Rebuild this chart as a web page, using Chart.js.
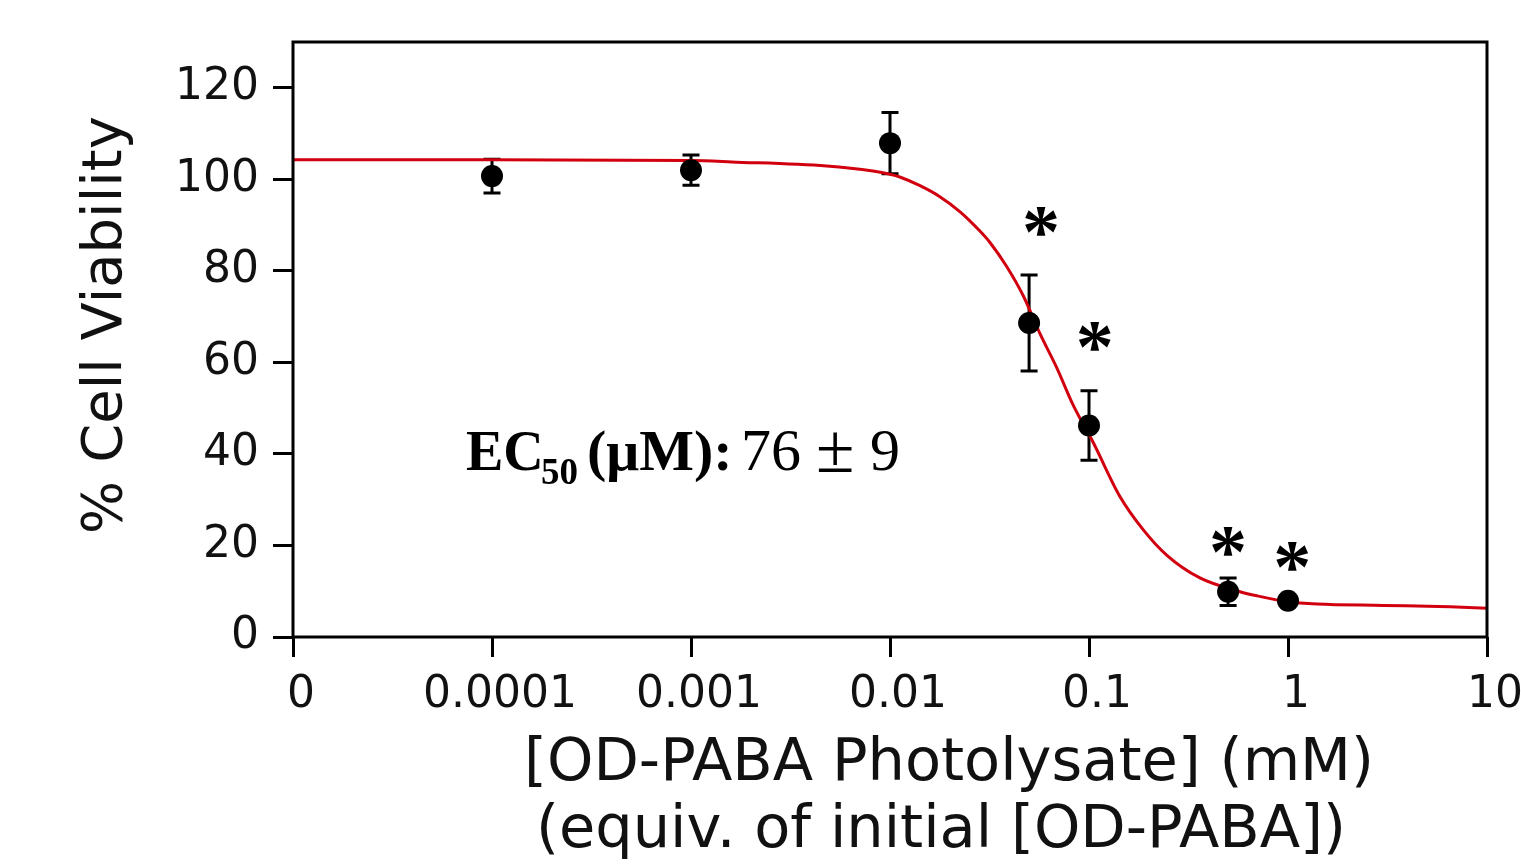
<!DOCTYPE html>
<html>
<head>
<meta charset="utf-8">
<script src="https://cdn.jsdelivr.net/npm/chart.js@4"></script>
<style>
  body { margin: 0; background: #fff; }
  canvas { display: block; }
</style>
</head>
<body>
<canvas id="viabilityChart" width="1521" height="867"></canvas>
<script>
// x tick positions (log) and what they read; the first decade stands for "0"
const tickValues = [0.00001, 0.0001, 0.001, 0.01, 0.1, 1, 10];
const tickLabels = ['0', '0.0001', '0.001', '0.01', '0.1', '1', '10'];
const yTicks = [0, 20, 40, 60, 80, 100, 120];

// measured points (mM, % viability, error)
const doses = [0.0001, 0.001, 0.01, 0.05, 0.1, 0.5, 1];
const viability = [100.7, 102.0, 107.9, 68.6, 46.2, 9.9, 7.9];
const viabilityErr = [3.7, 3.3, 6.7, 10.5, 7.6, 3.0, 1.0];

// fitted curve
const fitX = [0.00001, 0.0001, 0.001, 0.0016, 0.0048, 0.0082, 0.01, 0.0112, 0.01415, 0.0178, 0.0225, 0.0283, 0.0318,
    0.0385, 0.0468, 0.0567, 0.0689, 0.0834, 0.105, 0.143, 0.1875, 0.2455, 0.361, 0.574, 0.697, 1, 1.4, 3, 6.52, 10];
const fitY = [104.3, 104.3, 104.1, 103.8, 102.9, 101.8, 101.1, 100.5, 98.6, 96.2, 92.9, 88.7, 86.2,
    81.0, 74.5, 66.3, 58.8, 50.6, 42.5, 30.7, 23.4, 17.9, 12.9, 9.9, 9.0, 7.7, 7.2, 6.9, 6.6, 6.3];

// significance stars
const starX = [0.0574, 0.107, 0.5, 1.05];
const starY = [90.8, 65.6, 20.8, 17.5];

const tickFont = { family: 'DejaVu Sans', size: 44 };

const extras = {
    id: 'extras',
    beforeDatasetsDraw(chart) {
        const c = chart.ctx, xs = chart.scales.x, ys = chart.scales.y;
        c.save();
        c.strokeStyle = '#000';
        c.lineWidth = 3;
        doses.forEach((d, i) => {
            const px = xs.getPixelForValue(d);
            const top = ys.getPixelForValue(viability[i] + viabilityErr[i]);
            const bot = ys.getPixelForValue(viability[i] - viabilityErr[i]);
            c.beginPath();
            c.moveTo(px, top); c.lineTo(px, bot);
            c.moveTo(px - 8.5, top); c.lineTo(px + 8.5, top);
            c.moveTo(px - 8.5, bot); c.lineTo(px + 8.5, bot);
            c.stroke();
        });
        c.restore();
    },
    afterDraw(chart) {
        const c = chart.ctx, a = chart.chartArea, xs = chart.scales.x, ys = chart.scales.y;
        c.save();
        // box
        c.strokeStyle = '#000';
        c.lineWidth = 3;
        c.strokeRect(a.left, a.top, a.right - a.left, a.bottom - a.top);

        // stars
        c.fillStyle = '#000';
        c.font = 'bold 76px "Liberation Serif"';
        c.textAlign = 'center';
        c.textBaseline = 'alphabetic';
        starX.forEach((sx, i) => {
            const m = c.measureText('*');
            const px = xs.getPixelForValue(sx);
            const py = ys.getPixelForValue(starY[i]);
            const off = (m.actualBoundingBoxAscent - m.actualBoundingBoxDescent) / 2;
            c.fillText('*', px, py + off);
        });

        // y title
        c.fillStyle = '#111';
        c.font = '56px "DejaVu Sans"';
        c.textAlign = 'center';
        c.textBaseline = 'middle';
        c.save();
        c.translate(106, 325);
        c.rotate(-Math.PI / 2);
        c.fillText('% Cell Viability', 0, 0);
        c.restore();

        // x title
        c.font = '59px "DejaVu Sans"';
        c.fillText('[OD-PABA Photolysate] (mM)', 949, 765);
        c.fillText('(equiv. of initial [OD-PABA])', 941, 832);

        // EC50 label
        c.fillStyle = '#000';
        c.textAlign = 'left';
        c.textBaseline = 'alphabetic';
        const base = 470;
        c.font = 'bold 56px "Liberation Serif"';
        c.fillText('EC', 466, base);
        c.font = 'bold 37px "Liberation Serif"';
        c.fillText('50', 541, base + 14);
        c.font = 'bold 58px "Liberation Serif"';
        c.fillText('(μM):', 587, base);
        c.font = '60px "Liberation Serif"';
        c.fillText('76', 741, base);
        c.fillText('9', 870, base);
        c.font = '70px "Liberation Serif"';
        c.fillText('±', 816, base + 2);
        c.restore();
    }
};

new Chart(document.getElementById('viabilityChart'), {
    type: 'scatter',
    data: {
        datasets: [{
            label: 'Viability',
            data: doses.map((d, i) => ({ x: d, y: viability[i] })),
            backgroundColor: '#000',
            borderWidth: 0,
            pointRadius: 11,
            order: 0
        }, {
            label: 'Fit',
            data: fitX.map((d, i) => ({ x: d, y: fitY[i] })),
            showLine: true,
            borderColor: '#d2000f',
            borderWidth: 3,
            pointRadius: 0,
            cubicInterpolationMode: 'monotone',
            order: 1
        }]
    },
    options: {
        responsive: false,
        animation: false,
        devicePixelRatio: 1,
        layout: { padding: { top: 42, right: 34, left: 0, bottom: 0 } },
        plugins: { legend: { display: false }, tooltip: { enabled: false } },
        scales: {
            x: {
                type: 'logarithmic',
                min: 0.00001,
                max: 10,
                afterBuildTicks: (s) => { s.ticks = tickValues.map(v => ({ value: v })); },
                afterFit: (s) => { s.height = 230; s.paddingRight = 0; s.paddingLeft = 0; },
                border: { display: false },
                grid: { drawOnChartArea: false, drawTicks: true, tickLength: 20, tickWidth: 3, tickColor: '#000' },
                ticks: {
                    autoSkip: false,
                    maxRotation: 0,
                    labelOffset: 8,
                    padding: 12,
                    color: '#111',
                    font: tickFont,
                    callback: (v, i) => tickLabels[i]
                }
            },
            y: {
                min: 0,
                max: 130,
                afterBuildTicks: (s) => { s.ticks = yTicks.map(v => ({ value: v })); },
                afterFit: (s) => { s.width = 293; },
                border: { display: false },
                grid: { drawOnChartArea: false, drawTicks: true, tickLength: 20, tickWidth: 3, tickColor: '#000' },
                ticks: { padding: 14, color: '#111', font: tickFont }
            }
        }
    },
    plugins: [extras]
});
</script>
</body>
</html>
